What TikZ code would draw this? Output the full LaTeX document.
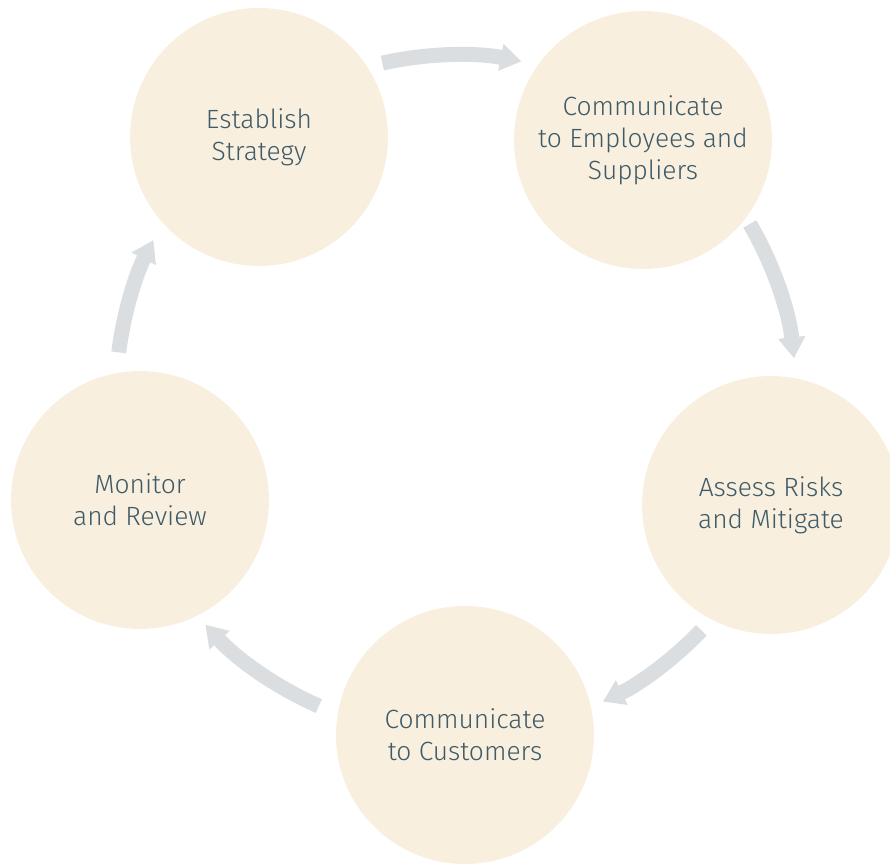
\documentclass[tikz,border=0pt]{standalone}
\usepackage{fontspec}
\setmainfont{Fira Sans}[UprightFont=* Light]
\usepackage{xcolor}
\usetikzlibrary{arrows.meta}

\definecolor{creamfill}{HTML}{F9EFDF}
\definecolor{slatetext}{HTML}{3E5B67}
\definecolor{arrowgray}{HTML}{DADEE1}

\begin{document}
\begin{tikzpicture}[
    stage/.style={
        circle,
        fill=creamfill,
        minimum size=5.16cm,
        inner sep=0pt,
        align=center,
        text=slatetext,
        font=\fontsize{15}{18.2}\selectfont
    },
    cycarrow/.style={
        draw=arrowgray,
        line width=0.3cm,
        -{Triangle[width=0.52cm,length=0.42cm]}
    }
]
    \clip (0,0) rectangle (17.8,17.28);

    % --- Nodes ---
    \node [stage] (strat) at (5.18,14.54) {Establish\\Strategy};
    \node [stage] (emp)   at (12.86,14.48) {Communicate\\to Employees and\\Suppliers};
    \node [stage] (risk)  at (15.42,7.18) {Assess Risks\\and Mitigate};
    \node [stage] (cust)  at (9.30,2.58) {Communicate\\to Customers};
    \node [stage] (mon)   at (2.80,7.28) {Monitor\\and Review};

    % --- Connections ---
    % arcs on one big circle round the middle
    \coordinate (mid) at (9.12,9.38);
    \foreach \a/\b/\n in {102.5/78.9/1, 30.2/6.2/2, -43.8/-64.4/3, 246.2/222.5/4, 172.8/152.9/5}
    {
        \coordinate (arr\n) at ([shift={(\a:6.8)}]mid);
        \draw [cycarrow] (arr\n) arc [start angle=\a, end angle=\b, radius=6.8];
    }

\end{tikzpicture}
\end{document}
